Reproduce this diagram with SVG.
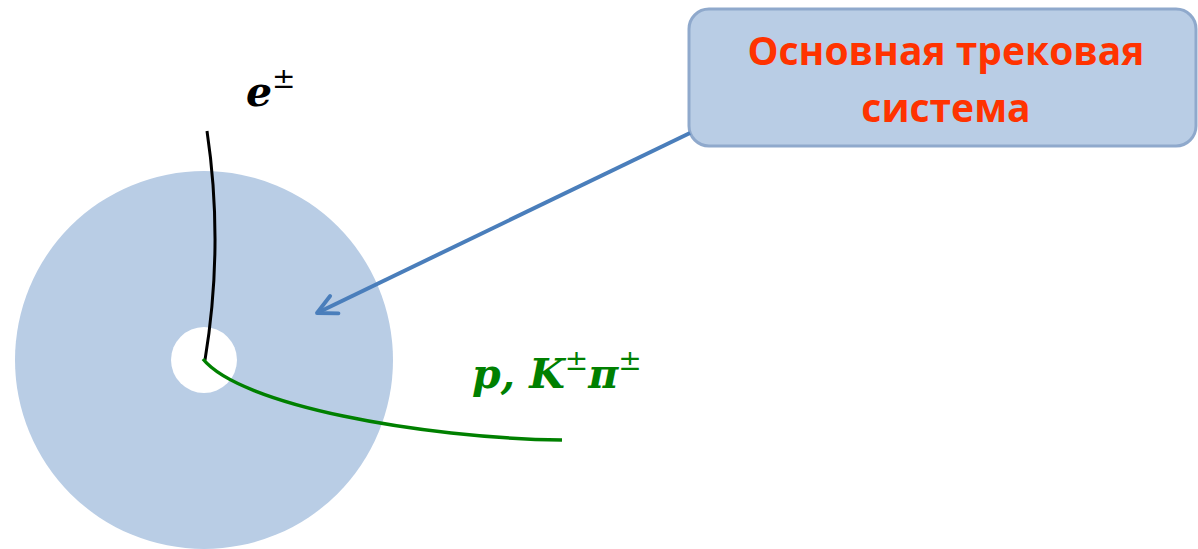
<svg xmlns="http://www.w3.org/2000/svg" width="1198" height="549" viewBox="0 0 1198 549">
<style>
.lbl{font-family:"DejaVu Serif","Liberation Serif",serif;font-weight:bold;font-style:italic;font-size:41px}
.sup{font-family:"DejaVu Serif","Liberation Serif",serif;font-weight:normal;font-style:normal;font-size:28px}
.box{font-family:"Open Sans","Liberation Sans",sans-serif;font-weight:bold;font-size:39px;fill:#ff3300}
</style>
<defs>
<marker id="arr" viewBox="0 0 10 10" refX="9" refY="5" markerWidth="6" markerHeight="6" markerUnits="strokeWidth" orient="auto">
<path d="M1,1 L9,5 L1,9" fill="none" stroke="#4a7ebb" stroke-width="1.6" stroke-linecap="round" stroke-linejoin="round"/>
</marker>
</defs>
<g id="detector">
<circle cx="204" cy="360" r="189" fill="#b9cde5"/>
<circle cx="204" cy="360" r="33" fill="#ffffff"/>
</g>
<g id="tracks">
<path d="M207,131 Q224,245 205,360" fill="none" stroke="#000" stroke-width="3"/>
<path d="M203,359 C240,405 420,438 562,440" fill="none" stroke="#008000" stroke-width="3.5"/>
</g>
<g id="label-e">
<text x="246" y="106" class="lbl">e<tspan class="sup" dy="-18">±</tspan></text>
</g>
<g id="label-pk">
<text x="472" y="388" class="lbl" fill="#008000">p, K<tspan class="sup" dy="-18">±</tspan><tspan dy="18">π</tspan><tspan class="sup" dy="-18">±</tspan></text>
</g>
<g id="box">
<rect x="689" y="9" width="507" height="137" rx="20" fill="#b9cde5" stroke="#8fa9cc" stroke-width="3"/>
<text x="946" y="65" text-anchor="middle" class="box">Основная трековая</text>
<text x="946" y="122" text-anchor="middle" class="box">система</text>
</g>
<g id="connectors">
<line x1="690" y1="133" x2="317" y2="313" stroke="#4a7ebb" stroke-width="4" marker-end="url(#arr)"/>
</g>
</svg>
